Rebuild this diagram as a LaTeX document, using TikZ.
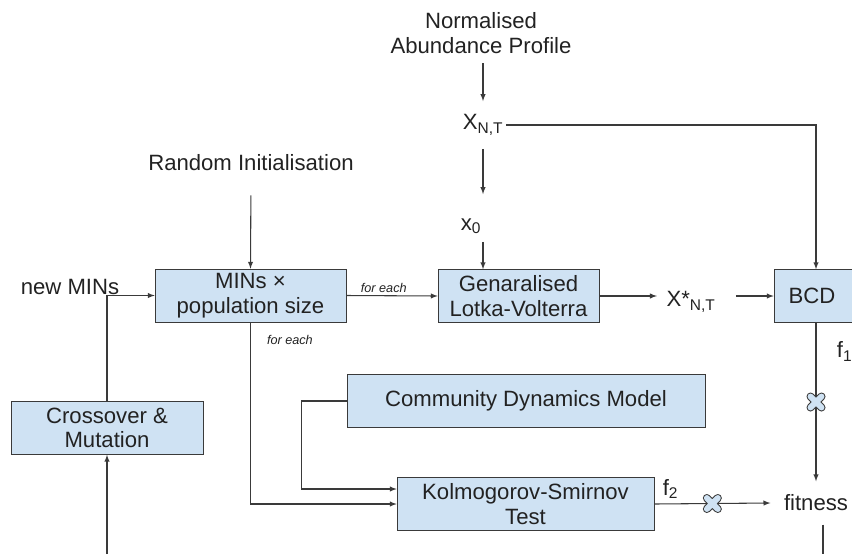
\documentclass[tikz,border=0pt]{standalone}
\usepackage{fontspec}
\setmainfont{Liberation Sans}
\usepackage{xcolor}
\usepackage{tikz}
\usetikzlibrary{calc, positioning}

\definecolor{boxblue}{HTML}{CFE2F3}
\definecolor{lineg}{HTML}{3A3A3A}
\definecolor{textg}{HTML}{222222}

\tikzset{
    cutmark/.pic={
        \draw[lineg, line width=6pt, line cap=round] (-5.5,-5.5) -- (5.5,5.5) (-5.5,5.5) -- (5.5,-5.5);
        \draw[boxblue, line width=4.4pt, line cap=round] (-5.5,-5.5) -- (5.5,5.5) (-5.5,5.5) -- (5.5,-5.5);
    }
}

\begin{document}
\begin{tikzpicture}[>=latex, x=0.75pt, y=-0.75pt,
    every node/.style={text=textg, font=\fontsize{16.6}{18.5}\selectfont},
    box/.style={draw=lineg, fill=boxblue, align=center, minimum height=39.75pt, inner sep=0pt},
    lbl/.style={align=center, inner sep=2pt},
    eachlbl/.style={font=\fontsize{9.5}{11}\selectfont\itshape, inner sep=2pt},
    conn/.style={draw=lineg, line width=0.8pt}]
    % Khung
    \clip (0,0) rectangle (852,554);

    % Nhãn
    \node[lbl] (nap) at (481,33) {Normalised\\Abundance Profile};
    \node[lbl] (xnt) at (483,125) {X\textsubscript{N,T}};
    \node[lbl] (xo) at (471,226) {x\textsubscript{0}};
    \node[lbl] (rinit) at (251,163) {Random Initialisation};
    \node[lbl] (newmins) at (70,287) {new MINs};
    \node[lbl] (xstar) at (691,302) {X*\textsubscript{N,T}};
    \node[lbl, inner sep=10pt] (fit) at (816,503) {fitness};

    % Hộp
    \node[box, minimum width=143.25pt] (mins) at (250.5,295.5) {MINs ×\\population size};
    \node[box, minimum width=120.75pt] (glv) at (518.5,296) {Genaralised\\Lotka-Volterra};
    \node[box, minimum width=63pt] (bcd) at (816,296) {\hspace*{-6pt}BCD};
    \node[box, minimum width=268.5pt] (cdm) at (526,401) {Community Dynamics Model};
    \node[box, minimum width=192.75pt] (ks) at (525.5,504) {Kolmogorov-Smirnov\\Test};
    \node[box, minimum width=144pt] (cm) at (107,428) {Crossover \&\\Mutation};
    \coordinate (loopin) at (107,554);
    \coordinate (loopout) at (823,554);

    % Mũi tên
    \draw[conn, ->, shorten <=5pt, shorten >=8pt] (nap.south -| xnt.south) -- (xnt.north);
    \draw[conn, ->] (xnt.east) -| (bcd.north);
    \draw[conn, ->, shorten <=8pt, shorten >=16pt] (xnt.south) -- (xnt.south |- xo.north);
    \draw[conn, ->, shorten <=4pt] (xnt.south |- xo.south) -- (xnt.south |- glv.north);
    \draw[conn, ->, shorten <=16pt] (rinit.south) -- (mins.north);
    \draw[conn, ->] (mins.east) -- node[eachlbl, above, pos=0.41] {for each} (glv.west);
    \draw[conn, ->, shorten >=5pt] (glv.east) -- (glv.east -| xstar.west);
    \draw[conn, ->, shorten <=13pt] (bcd.west -| xstar.east) -- (bcd.west);
    \draw[conn, ->] (bcd.south) -- node[pos=0.18, right=12pt] {f\textsubscript{1}} (fit.north);
    \draw[conn, ->] (ks.east) -- node[pos=0.14, above] {f\textsubscript{2}} (fit.west);
    \draw[conn, ->] (cdm.west) -- ++(-45,0) |- ([yshift=11.25pt]ks.west);
    \draw[conn, ->] (mins.south) |- node[eachlbl, pos=0.05, right=10pt] {for each} (ks.west);
    \draw[conn, ->] (cm.north) |- (mins.west);
    \draw[conn, ->] (loopin) -- (cm.south);
    \draw[conn] (fit.south -| loopout) -- (loopout);

    % Dấu cắt
    \pic at ($(bcd.south)!0.5!(fit.north)$) {cutmark};
    \pic at ($(ks.east)!0.5!(fit.west)$) {cutmark};
\end{tikzpicture}
\end{document}
